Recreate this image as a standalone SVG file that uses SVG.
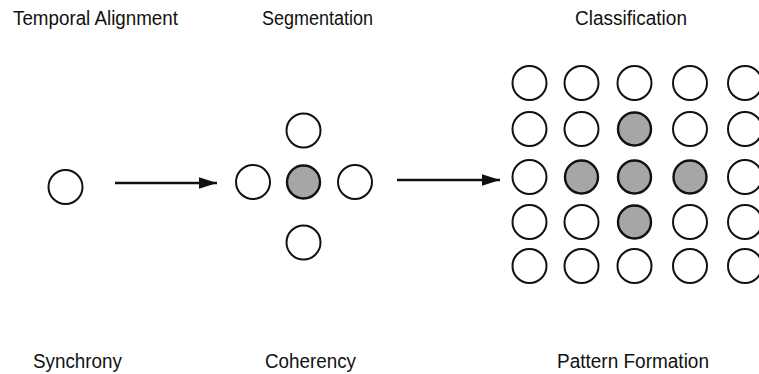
<svg xmlns="http://www.w3.org/2000/svg" width="759" height="374" viewBox="0 0 759 374">
<style>
text{font-family:"Liberation Sans",Arial,sans-serif;font-size:19.5px;fill:#111;}
.c{fill:#fff;stroke:#111;stroke-width:2;}
.s{fill:#a6a6a6;stroke:#111;stroke-width:2.4;}
.a{stroke:#111;stroke-width:2.6;fill:none;}
</style>
<defs>
<marker id="ah" markerWidth="7" markerHeight="4.4" refX="7" refY="2.2" orient="auto" markerUnits="strokeWidth">
<path d="M0,0 L7,2.2 L0,4.4 z" fill="#111"/>
</marker>
</defs>
<rect width="759" height="374" fill="#fff"/>
<g id="labels">
<text x="13" y="25" textLength="165" lengthAdjust="spacingAndGlyphs">Temporal Alignment</text>
<text x="262" y="25" textLength="111" lengthAdjust="spacingAndGlyphs">Segmentation</text>
<text x="575" y="25" textLength="112" lengthAdjust="spacingAndGlyphs">Classification</text>
<text x="33" y="368" textLength="89" lengthAdjust="spacingAndGlyphs">Synchrony</text>
<text x="265" y="368" textLength="91" lengthAdjust="spacingAndGlyphs">Coherency</text>
<text x="557" y="368" textLength="152" lengthAdjust="spacingAndGlyphs">Pattern Formation</text>
</g>
<g id="synchrony">
<circle class="c" cx="65.5" cy="187" r="17"/>
</g>
<g id="coherency">
<circle class="c" cx="303.5" cy="130.5" r="17"/>
<circle class="c" cx="253" cy="182" r="17"/>
<circle class="s" cx="303.5" cy="182" r="16.5"/>
<circle class="c" cx="355" cy="182" r="17"/>
<circle class="c" cx="303.5" cy="242.5" r="17"/>
</g>
<g id="pattern">
<circle class="c" cx="529.5" cy="83" r="17"/>
<circle class="c" cx="581.5" cy="83" r="17"/>
<circle class="c" cx="634.5" cy="83" r="17"/>
<circle class="c" cx="690" cy="83" r="17"/>
<circle class="c" cx="745" cy="83" r="17"/>
<circle class="c" cx="529.5" cy="129" r="17"/>
<circle class="c" cx="581.5" cy="129" r="17"/>
<circle class="s" cx="634.5" cy="129" r="16.5"/>
<circle class="c" cx="690" cy="129" r="17"/>
<circle class="c" cx="745" cy="129" r="17"/>
<circle class="c" cx="529.5" cy="177" r="17"/>
<circle class="s" cx="581.5" cy="177" r="16.5"/>
<circle class="s" cx="634.5" cy="177" r="16.5"/>
<circle class="s" cx="690" cy="177" r="16.5"/>
<circle class="c" cx="745" cy="177" r="17"/>
<circle class="c" cx="529.5" cy="222" r="17"/>
<circle class="c" cx="581.5" cy="222" r="17"/>
<circle class="s" cx="634.5" cy="222" r="16.5"/>
<circle class="c" cx="690" cy="222" r="17"/>
<circle class="c" cx="745" cy="222" r="17"/>
<circle class="c" cx="529.5" cy="266" r="17"/>
<circle class="c" cx="581.5" cy="266" r="17"/>
<circle class="c" cx="634.5" cy="266" r="17"/>
<circle class="c" cx="690" cy="266" r="17"/>
<circle class="c" cx="745" cy="266" r="17"/>
</g>
<g id="connectors">
<line class="a" x1="115" y1="183" x2="217" y2="183" marker-end="url(#ah)"/>
<line class="a" x1="397" y1="180" x2="500" y2="180" marker-end="url(#ah)"/>
</g>
</svg>
